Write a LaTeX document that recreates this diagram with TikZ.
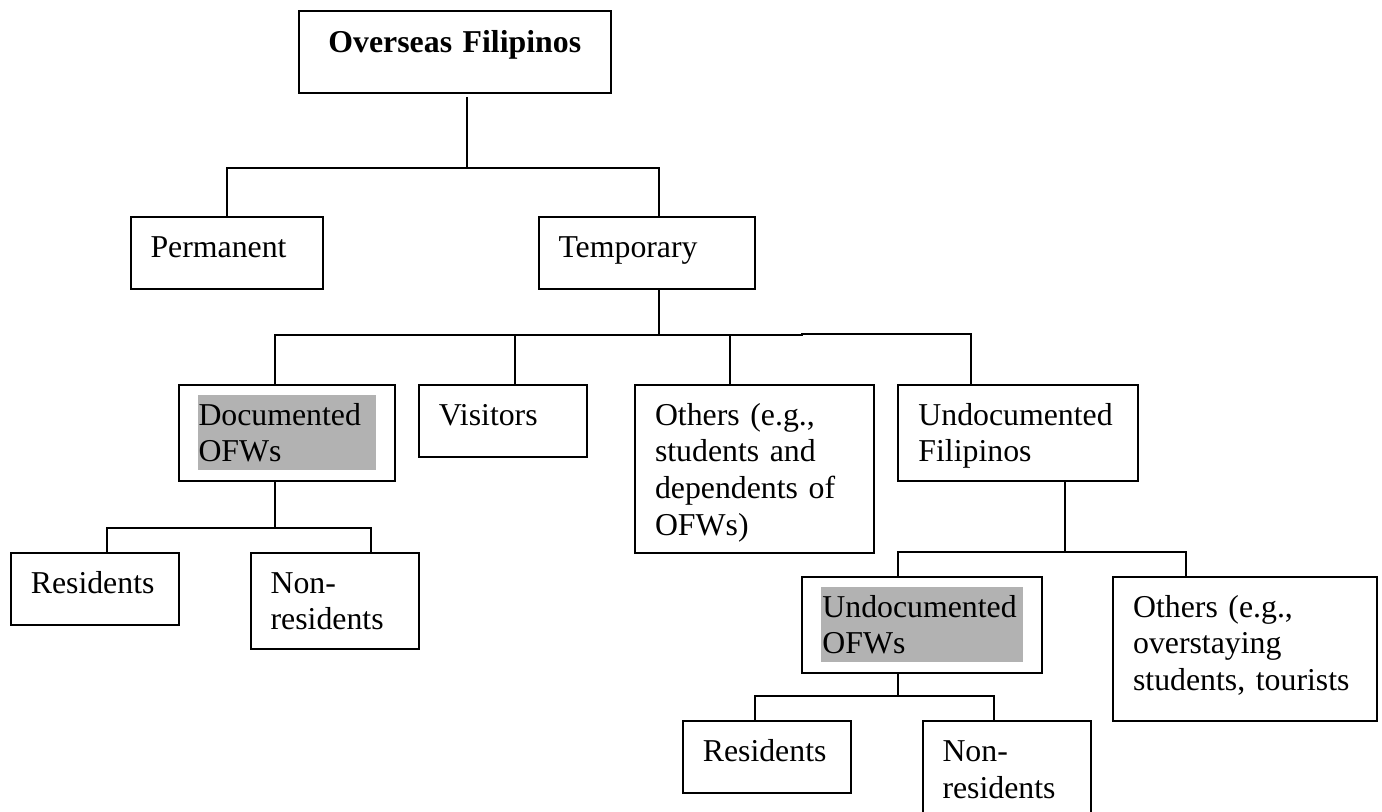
\documentclass[tikz,border=0pt]{standalone}
\usepackage{fontspec}
\setmainfont{Liberation Serif}
\usetikzlibrary{backgrounds}

\begin{document}
\begin{tikzpicture}[
    x=0.5pt, y=-0.5pt,
    % text boxes: the text sits at the top left, like a word processor box
    box/.style={draw, line width=1pt, anchor=north west, align=left,
        inner xsep=10pt, inner ysep=0pt, text height=20.25pt,
        font=\fontsize{15.9pt}{18.35pt}\selectfont},
    link/.style={line width=1pt},
    marked/.style={fill=black!30}
]

    % page frame
    \useasboundingbox (0,0) rectangle (1382,812);
    \clip (0,0) rectangle (1382,812);

    % top of the tree
    \node[box, align=center, text width=136pt, text height=20.7pt, text depth=20pt,
        font=\fontsize{15.9pt}{18.35pt}\selectfont\bfseries] (root) at (297.8,10.3) {Overseas Filipinos};

    % second level
    \node[box, text width=76.4pt, text depth=15.75pt] (perm) at (129.5,215.7) {Permanent};
    \node[box, text width=88.1pt, text depth=15.75pt] (temp) at (537.5,215.7) {Temporary};

    % third level
    \node[box, text width=88.25pt, text depth=27.75pt] (docofw) at (177.5,383.7) {Documented\\OFWs};
    \node[box, text width=63.9pt, text depth=15.9pt] (visit) at (417.9,383.7) {Visitors};
    \node[box, text width=99.65pt, text depth=63.9pt] (othtemp) at (634,383.7) {Others (e.g.,\\students and\\dependents of\\OFWs)};
    \node[box, text width=99.65pt, text depth=27.75pt] (undocfil) at (897.4,383.7) {Undocumented\\Filipinos};

    % below the documented workers
    \node[box, text width=64.15pt, text depth=15.9pt] (resA) at (9.8,551.7) {Residents};
    \node[box, text width=64.2pt, text depth=28.05pt] (nonresA) at (249.6,551.7) {Non-\\residents};

    % below the undocumented Filipinos
    \node[box, text width=99.65pt, text depth=27.75pt] (undocofw) at (801.4,575.7) {Undocumented\\OFWs};
    \node[box, text width=111.7pt, text depth=51.9pt] (othundoc) at (1112.1,575.7) {Others (e.g.,\\overstaying\\students, tourists};
    \node[box, text width=63.9pt, text depth=15.6pt] (resB) at (681.8,720) {Residents};
    \node[box, text width=64pt, text depth=27.75pt] (nonresB) at (921.5,720) {Non-\\residents};

    % grey highlight behind the two OFW boxes
    \begin{scope}[on background layer]
        \fill[marked] ([shift={(10pt,-5.65pt)}]docofw.north west) rectangle ([shift={(-10pt,-43.15pt)}]docofw.north east);
        \fill[marked] ([shift={(10pt,-5.8pt)}]undocofw.north west) rectangle ([shift={(-10pt,-43pt)}]undocofw.north east);
    \end{scope}

    % levels of the horizontal bars
    \coordinate (levA) at (0,168);
    \coordinate (levB) at (801.7,335.3);
    \coordinate (levC) at (0,527.7);
    \coordinate (levD) at (0,551.7);
    \coordinate (levE) at (0,695.7);

    % root -> permanent / temporary
    \draw[link] ([xshift=5.95pt,yshift=-1.65pt]root.south) -- ([xshift=5.95pt]root.south |- levA);
    \draw[link] (perm.north) |- ([xshift=6pt]temp.north |- levA) -- ([xshift=6pt]temp.north);

    % temporary -> four groups
    \draw[link] ([xshift=6.2pt]temp.south) -- ([xshift=6.2pt]temp.south |- levB);
    \draw[link] ([xshift=-6pt]docofw.north) |- (levB) -- ++(0,-1) -| ([xshift=-23.5pt]undocfil.north);
    \draw[link] ([xshift=6pt]visit.north) -- ([xshift=6pt]visit.north |- levB);
    \draw[link] ([xshift=-12.25pt]othtemp.north) -- ([xshift=-12.25pt]othtemp.north |- levB);

    % documented OFWs -> residents / non-residents
    \draw[link] ([xshift=-6pt]docofw.south) -- ([xshift=-6pt]docofw.south |- levC);
    \draw[link] ([xshift=5.9pt]resA.north) |- ([xshift=18.1pt]nonresA.north |- levC) -- ([xshift=18.1pt]nonresA.north);

    % undocumented Filipinos -> two groups
    \draw[link] ([xshift=23.7pt]undocfil.south) -- ([xshift=23.7pt]undocfil.south |- levD);
    \draw[link] ([xshift=-11.8pt]undocofw.north) |- ([xshift=-29.65pt]othundoc.north |- levD) -- ([xshift=-29.65pt]othundoc.north);

    % undocumented OFWs -> residents / non-residents
    \draw[link] ([xshift=-11.8pt]undocofw.south) -- ([xshift=-11.8pt]undocofw.south |- levE);
    \draw[link] ([xshift=-6pt]resB.north) |- ([xshift=-6.25pt]nonresB.north |- levE) -- ([xshift=-6.25pt]nonresB.north);
\end{tikzpicture}
\end{document}
